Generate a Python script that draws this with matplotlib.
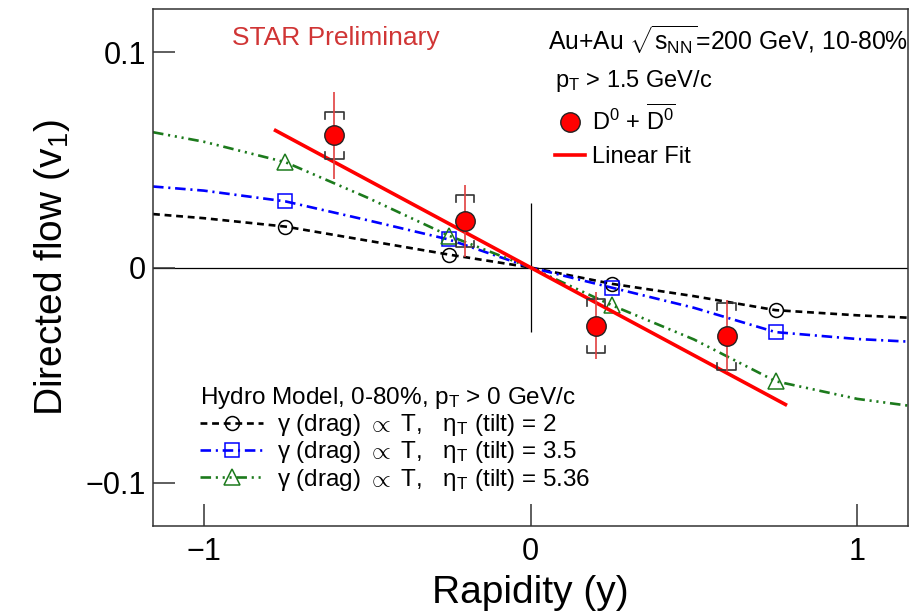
import matplotlib.pyplot as plt

plt.rcParams['font.family'] = ['Liberation Sans', 'DejaVu Sans']
plt.rcParams['mathtext.fontset'] = 'custom'
plt.rcParams['mathtext.rm'] = 'Liberation Sans'
plt.rcParams['mathtext.it'] = 'Liberation Sans:italic'
plt.rcParams['mathtext.bf'] = 'Liberation Sans:bold'

# D0 + D0bar v1 vs rapidity
d0_y = [-0.6, -0.2, 0.2, 0.6]
d0_v1 = [0.0613, 0.0215, -0.0271, -0.0319]
d0_stat = [0.0202, 0.0167, 0.0155, 0.0168]
d0_sys = [0.0110, 0.0122, 0.0125, 0.0156]

# linear fit end points
fit_y = [-0.78, 0.78]
fit_v1 = [0.0636, -0.0636]

# hydro model curves
hydro_y = [-1.155, -1.0, -0.75, -0.5, -0.25, 0.0, 0.25, 0.5, 0.75, 1.0, 1.155]
tilt2_curve = [0.0248, 0.0229, 0.0190, 0.0125, 0.0060, 0.0, -0.0076, -0.0133, -0.0198, -0.0222, -0.0233]
tilt35_curve = [0.0376, 0.0357, 0.0307, 0.0220, 0.0130, 0.0, -0.0094, -0.0187, -0.0300, -0.0332, -0.0344]
tilt536_curve = [0.0628, 0.0584, 0.0489, 0.0325, 0.0148, 0.0, -0.0176, -0.0334, -0.0528, -0.0610, -0.0641]

hydro_pts_y = [-0.75, -0.25, 0.25, 0.75]
tilt2_pts = [0.0190, 0.0060, -0.0076, -0.0198]
tilt35_pts = [0.0307, 0.0130, -0.0094, -0.0300]
tilt536_pts = [0.0489, 0.0148, -0.0176, -0.0528]

W, H = 910, 613
fig = plt.figure(figsize=(W / 100, H / 100), dpi=100)
ax = fig.add_axes([153 / W, 1 - 526 / H, 755 / W, 517 / H])

ax.set_xlim(-1.155, 1.155)
ax.set_ylim(-0.12, 0.12)

ax.axhline(0, color='k', lw=0.9, zorder=1)
ax.vlines(0, -0.03, 0.03, color='k', lw=0.9, zorder=1)

green = '#1c7a1c'
l1, = ax.plot(hydro_y, tilt2_curve, color='k', lw=1.9, ls=(0, (2.6, 1.8)), zorder=2)
m1, = ax.plot(hydro_pts_y, tilt2_pts, ls='none', marker='o', ms=10, mfc='none', mec='k', mew=1.1, zorder=3)
l2, = ax.plot(hydro_y, tilt35_curve, color='blue', lw=1.9, ls=(0, (4, 1.8, 0.8, 1.8)), zorder=2)
m2, = ax.plot(hydro_pts_y, tilt35_pts, ls='none', marker='s', ms=10, mfc='none', mec='blue', mew=1.1, zorder=3)
l3, = ax.plot(hydro_y, tilt536_curve, color=green, lw=1.9, ls=(0, (4, 1.8, 0.8, 1.8, 0.8, 1.8, 0.8, 1.8)), zorder=2)
m3, = ax.plot(hydro_pts_y, tilt536_pts, ls='none', marker='^', ms=11, mfc='none', mec=green, mew=1.1, zorder=3)

fit_line, = ax.plot(fit_y, fit_v1, color='red', lw=2.6, zorder=4)

# systematic brackets
bw, bh = 0.028, 0.0032
for x, v, s in zip(d0_y, d0_v1, d0_sys):
    top, bot = v + s, v - s
    ax.plot([x - bw, x - bw, x + bw, x + bw], [top - bh, top, top, top - bh], color='#333333', lw=1.2, zorder=5)
    ax.plot([x - bw, x - bw, x + bw, x + bw], [bot + bh, bot, bot, bot + bh], color='#333333', lw=1.2, zorder=5)

ax.errorbar(d0_y, d0_v1, yerr=d0_stat, fmt='none', ecolor='#e04040', elinewidth=1.2, capsize=0, zorder=5)
d0_pts, = ax.plot(d0_y, d0_v1, ls='none', marker='o', ms=14, mfc='red', mec='#222222', mew=1.0, zorder=6)

# axes styling
for sp in ax.spines.values():
    sp.set_linewidth(1.1)
    sp.set_color('#333333')
ax.set_xticks([-1, 0, 1])
ax.set_xticklabels(['\u22121', '0', '1'])
ax.set_yticks([-0.1, 0, 0.1])
ax.set_yticklabels(['\u22120.1', '0', '0.1'])
ax.tick_params(direction='in', length=16, width=1.1, color='#333333', labelsize=22)
ax.tick_params(axis='x', pad=8)
ax.tick_params(axis='y', pad=5)

ax.set_xlabel('Rapidity (y)', fontsize=28, labelpad=6)
ax.set_ylabel(r'Directed flow (v$_{1}$)', fontsize=28, labelpad=10)

fig.text(336 / W, 1 - 38 / H, 'STAR Preliminary', color='#d03535', fontsize=19, ha='center', va='center')
fig.text(548 / W, 1 - 40 / H, r'Au+Au $\sqrt{\mathrm{s}_{\mathrm{NN}}}$=200 GeV, 10-80%', fontsize=17.8, ha='left', va='center')

leg1 = ax.legend([d0_pts, fit_line], [r'$\mathrm{D^0}$ + $\overline{\mathrm{D^0}}$', 'Linear Fit'],
                 title=r'p$_\mathrm{T}$ > 1.5 GeV/c', title_fontsize=17, fontsize=17,
                 loc='upper left', bbox_to_anchor=(555 / W, 1 - 68 / H), bbox_transform=fig.transFigure,
                 frameon=False, alignment='left', handlelength=1.25, handletextpad=0.3,
                 labelspacing=0.45, borderpad=0, borderaxespad=0)
ax.add_artist(leg1)

ax.legend([(l1, m1), (l2, m2), (l3, m3)],
          ['\u03b3 (drag) $\\propto$ T,   \u03b7$_\\mathrm{T}$ (tilt) = 2',
           '\u03b3 (drag) $\\propto$ T,   \u03b7$_\\mathrm{T}$ (tilt) = 3.5',
           '\u03b3 (drag) $\\propto$ T,   \u03b7$_\\mathrm{T}$ (tilt) = 5.36'],
          title=r'Hydro Model, 0-80%, p$_\mathrm{T}$ > 0 GeV/c', title_fontsize=17.5, fontsize=17.5,
          loc='upper left', bbox_to_anchor=(200 / W, 1 - 385 / H), bbox_transform=fig.transFigure,
          frameon=False, alignment='left', handlelength=2.6, handletextpad=0.55,
          labelspacing=0.05, borderpad=0, borderaxespad=0)

fig.savefig('out.png', dpi=100)
